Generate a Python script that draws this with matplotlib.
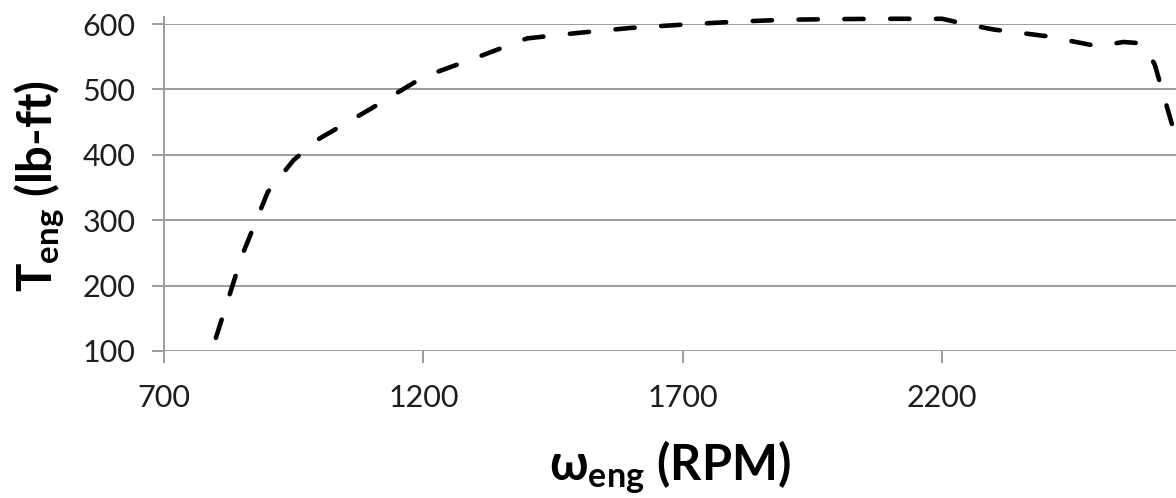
import matplotlib.pyplot as plt

# engine torque curve
rpm = [800, 850, 900, 950, 1000, 1100, 1200, 1300, 1400, 1500, 1600, 1700,
       1800, 1900, 2000, 2100, 2200, 2250, 2300, 2400, 2500, 2550, 2575,
       2595, 2610, 2650, 2700]
torque = [120, 245, 343, 392, 425, 471, 519, 548, 578, 586.5, 594, 599,
          603.5, 606.5, 607.5, 608, 608, 599, 591.5, 581.5, 566, 572.5, 571,
          560, 538, 428, 290]

x_ticks = [700, 1200, 1700, 2200]
y_ticks = [100, 200, 300, 400, 500, 600]

plt.rcParams['font.family'] = ['Lato', 'DejaVu Sans']
plt.rcParams['mathtext.fontset'] = 'custom'
plt.rcParams['mathtext.rm'] = 'Lato'
plt.rcParams['mathtext.it'] = 'Lato:italic'
plt.rcParams['mathtext.bf'] = 'Lato:bold'
plt.rcParams['mathtext.fallback'] = 'stixsans'

W, H = 1176, 498
fig = plt.figure(figsize=(W / 100, H / 100), dpi=100)
ax = fig.add_axes([164 / W, 1 - 351 / H, 1012 / W, 327 / H])

grid_col = '#9c9c9c'
ax.set_xlim(700, 2651)
ax.set_ylim(100, 600)
ax.set_xticks(x_ticks)
ax.set_yticks(y_ticks)
ax.yaxis.grid(True, color=grid_col, lw=1.4)
ax.set_axisbelow(True)

for s in ['top', 'right', 'bottom']:
    ax.spines[s].set_visible(False)
ax.spines['left'].set_color(grid_col)
ax.spines['left'].set_linewidth(1.4)
ax.spines['left'].set_bounds(100, 611)

ax.tick_params(axis='both', color=grid_col, width=1.4, length=8.5,
               labelsize=22, labelcolor='#1e1e1e')
ax.tick_params(axis='y', pad=12)
ax.tick_params(axis='x', pad=15)

ax.plot(rpm, torque, color='black', lw=3.3, ls=(0, (4.2, 5.8)),
        dash_capstyle='round', clip_on=False)

fig.text(670 / W, 1 - 480 / H, r'$\mathbf{\omega}_{\mathbf{eng}}$ (RPM)',
         fontsize=35, fontweight='bold', ha='center', va='baseline')
fig.text(51 / W, 1 - 186 / H, r'$\mathbf{T}_{\mathbf{eng}}$ (lb-ft)',
         fontsize=34, fontweight='bold', ha='center', va='baseline',
         rotation=90, rotation_mode='anchor')

fig.savefig('out.png', dpi=100)
